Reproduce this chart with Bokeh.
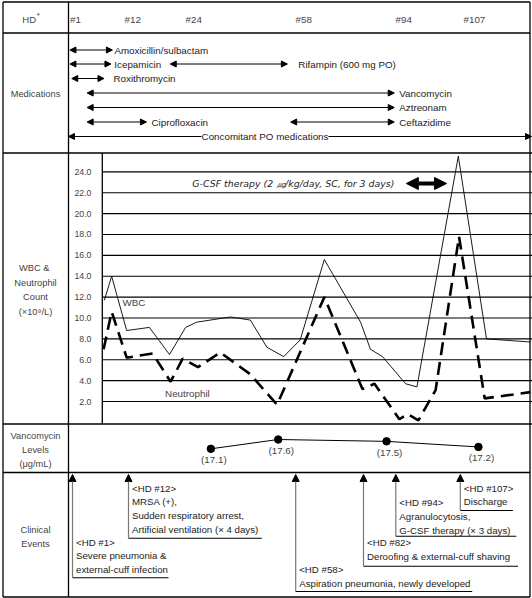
from bokeh.plotting import figure
from bokeh.models import Range1d, Arrow, NormalHead, Label
from bokeh.core.properties import value
from bokeh.embed import file_html
from bokeh.resources import INLINE

# ---------------- data ----------------
hd_labels = ["#1", "#12", "#24", "#58", "#94", "#107"]

# WBC (x10^9/L) on a schematic hospital-day timeline
wbc_day = [9.7, 11.7, 15.8, 22.0, 27.5, 31.9, 34.9, 44.2, 49.6, 54.1, 58.7,
           63.2, 69.8, 79.7, 82.4, 85.7, 92.0, 95.1, 106.4, 114.1, 126.1]
wbc = [11.7, 14.0, 8.8, 9.1, 6.5, 9.1, 9.6, 10.1, 9.8, 7.2, 6.3,
       7.9, 15.6, 9.6, 7.0, 6.3, 3.7, 3.4, 25.5, 8.0, 7.7]

neut_day = [9.5, 11.7, 15.8, 22.9, 27.8, 31.1, 35.3, 41.4, 49.6, 56.9,
            69.8, 80.2, 83.5, 90.3, 92.5, 95.5, 100.2, 106.6, 113.6, 126.1]
neut = [7.0, 10.6, 6.2, 6.6, 3.9, 6.1, 5.3, 6.7, 4.6, 1.7,
        12.0, 3.2, 3.7, 0.3, 0.8, 0.2, 3.1, 17.8, 2.3, 2.9]

count_ticks = [2, 4, 6, 8, 10, 12, 14, 16, 18, 20, 22, 24]
count_tick_labels = ["2.0", "4.0", "6.0", "8.0", "10.0", "12.0", "14.0",
                     "16.0", "18.0", "20.0", "22.0", "24.0"]

vanco_day = [38.8, 57.2, 86.8, 111.9]
vanco = [17.1, 17.6, 17.5, 17.2]
vanco_labels = ["(17.1)", "(17.6)", "(17.5)", "(17.2)"]

med_labels = ["Amoxicillin/sulbactam", "Icepamicin", "Rifampin (600 mg PO)",
              "Roxithromycin", "Vancomycin", "Aztreonam", "Ciprofloxacin",
              "Ceftazidime"]
med_start = [0.3, 0.3, 27.7, 0.8, 5.0, 5.0, 5.0, 60.6]
med_end = [11.9, 11.5, 59.7, 9.6, 88.9, 88.9, 21.2, 88.9]
med_row = [0, 1, 1, 2, 3, 4, 5, 5]
po_label = "Concomitant PO medications"
po_start, po_end = -0.1, 126.4

gcsf_label = "G-CSF therapy (2 \u338d/kg/day, SC, for 3 days)"
gcsf_start, gcsf_end = 92.2, 103.2

event_texts = [
    ["<HD #1>", "Severe pneumonia &", "external-cuff infection"],
    ["<HD #12>", "MRSA (+),", "Sudden respiratory arrest,",
     "Artificial ventilation (\u00d7 4 days)"],
    ["<HD #58>", "Aspiration pneumonia, newly developed"],
    ["<HD #82>", "Deroofing & external-cuff shaving"],
    ["<HD #94>", "Agranulocytosis,", "G-CSF therapy (\u00d7 3 days)"],
    ["<HD #107>", "Discharge"],
]

# ---------------- layout ----------------
W, H = 532, 598
FONT = value("Liberation Sans")
TXT = "#222222"
GREY_TXT = "#444444"

PX_PER_DAY = 388 / 106      # schematic day scale
DAY1_PX = 72
def px2day(px):
    return 1 + (px - DAY1_PX) / PX_PER_DAY

CNT0_PX, CNT_PX = 421.9, 10.44
VAN_REF, VAN_REF_PX, VAN_PX = 17.1, 448.3, 18.6

p = figure(width=W, height=H, x_range=Range1d(0, W), y_range=Range1d(H, 0),
           output_backend="svg", toolbar_location=None, min_border=0,
           x_axis_location=None, y_axis_location=None)
p.grid.visible = False
p.outline_line_color = None
p.background_fill_color = "white"
p.border_fill_color = "white"

p.extra_x_ranges = {"day": Range1d(px2day(0), px2day(W))}
p.extra_y_ranges = {
    "count": Range1d((CNT0_PX - H) / CNT_PX, CNT0_PX / CNT_PX),
    "vanco": Range1d(VAN_REF - (H - VAN_REF_PX) / VAN_PX, VAN_REF + VAN_REF_PX / VAN_PX),
}

# table frame
LW = 1.3
hx0 = [2.5, 2.5, 2.5, 2.5, 2.5, 2.5]
hx1 = [529.5, 529.5, 532, 532, 529.5, 529.5]
hy = [1.5, 32.5, 152.5, 423.5, 472, 596.5]
p.segment(x0=hx0, y0=hy, x1=hx1, y1=hy, line_color="black", line_width=LW)
vx = [2.5, 68, 101.8, 529.5]
vy0 = [1.5, 1.5, 152.5, 1.5]
vy1 = [596.5, 596.5, 423.5, 596.5]
p.segment(x0=vx, y0=vy0, x1=vx, y1=vy1, line_color="black", line_width=LW)

# left column labels
def ltext(x, y, t, size="9.3px", color=GREY_TXT, align="center", style="normal", font=FONT):
    p.text(x=[x], y=[y], text=[t], text_font=font, text_font_size=size,
           text_color=color, text_align=align, text_baseline="middle",
           text_font_style=style)

ltext(35.5, 18.5, "HD", size="9.5px", align="right")
ltext(36.2, 14.5, "*", size="8px", align="left")
ltext(35, 93, "Medications")
for yy, t in zip([267, 282, 296.5, 311], ["WBC  &", "Neutrophil", "Count", "(\u00d710\u2079/L)"]):
    ltext(35, yy, t)
for yy, t in zip([435, 449, 463], ["Vancomycin", "Levels", "(\u03bcg/mL)"]):
    ltext(35, yy, t)
for yy, t in zip([529, 543], ["Clinical", "Events"]):
    ltext(35, yy, t)

# HD header
hd_x = [69.6, 124, 185, 295, 395, 463]
p.text(x=hd_x, y=[18.5] * len(hd_x), text=hd_labels, text_font=FONT,
       text_font_size="9.8px", text_color=GREY_TXT, text_align="left",
       text_baseline="middle")

# medications
row_y = [49.5, 63.5, 78, 92.5, 107, 121.5, 136]
label_dx = [2, 3.4, 11, 9.5, 5, 5, 5, 5]
for s, e, r, lab, dx in zip(med_start, med_end, med_row, med_labels, label_dx):
    yy = row_y[r]
    p.add_layout(Arrow(x_start=s, x_end=e, y_start=yy, y_end=yy, x_range_name="day",
                       line_color="black", line_width=1,
                       start=NormalHead(size=6, fill_color="black", line_color="black"),
                       end=NormalHead(size=6, fill_color="black", line_color="black")))
    p.text(x=[e], y=[yy], text=[lab], x_range_name="day", x_offset=dx,
           text_font=FONT, text_font_size="9.8px", text_color=TXT,
           text_align="left", text_baseline="middle")
p.add_layout(Arrow(x_start=po_start, x_end=po_end, y_start=row_y[6], y_end=row_y[6],
                   x_range_name="day", line_color="black", line_width=1,
                   start=NormalHead(size=6, fill_color="black", line_color="black"),
                   end=NormalHead(size=6, fill_color="black", line_color="black")))
p.add_layout(Label(x=264.5, y=row_y[6], text=po_label, text_font="Liberation Sans",
                   text_font_size="9.8px", text_color=TXT, text_align="center",
                   text_baseline="middle", background_fill_color="white"))

# WBC panel gridlines & tick labels
p.segment(x0=[101.8] * len(count_ticks), y0=count_ticks, x1=[532] * len(count_ticks),
          y1=count_ticks, y_range_name="count", line_color="black", line_width=1.1)
p.text(x=[91] * len(count_ticks), y=count_ticks, text=count_tick_labels,
       y_range_name="count", text_font=FONT, text_font_size="8.8px",
       text_color=GREY_TXT, text_align="right", text_baseline="middle")

p.line(wbc_day, wbc, x_range_name="day", y_range_name="count",
       line_color="black", line_width=0.9)
p.line(neut_day, neut, x_range_name="day", y_range_name="count",
       line_color="black", line_width=2.6, line_dash="13 7")

ltext(122, 302, "WBC", size="9.8px", align="left")
ltext(164.6, 392.5, "Neutrophil", size="9.8px", align="left")

# G-CSF
p.text(x=[gcsf_start], y=[182.5], text=[gcsf_label], x_range_name="day",
       x_offset=-12, text_font=value("DejaVu Sans"), text_font_size="9.4px",
       text_color=TXT, text_align="right", text_baseline="middle",
       text_font_style="italic")
p.add_layout(Arrow(x_start=gcsf_start, x_end=gcsf_end, y_start=183, y_end=183,
                   x_range_name="day", line_color="black", line_width=4,
                   start=NormalHead(size=12, fill_color="black", line_color="black"),
                   end=NormalHead(size=12, fill_color="black", line_color="black")))

# vancomycin levels
p.line(vanco_day, vanco, x_range_name="day", y_range_name="vanco",
       line_color="black", line_width=1)
p.scatter(vanco_day, vanco, x_range_name="day", y_range_name="vanco",
          size=7.5, color="black")
p.text(x=vanco_day, y=vanco, text=vanco_labels, x_range_name="day",
       y_range_name="vanco", x_offset=3, y_offset=11, text_font=FONT,
       text_font_size="9.8px", text_color=GREY_TXT, text_align="center",
       text_baseline="middle")

# clinical events
ev_x = [72, 128, 295.2, 363, 395.3, 459.8]
ev_base = [577.3, 537.7, 591, 565.7, 535.7, 510]
ev_end = [168, 261.3, 471.7, 517.5, 515.8, 512.4]
ev_text_y = [541.7, 487.7, 569, 542.3, 502.3, 487.7]
for x, b, xe, ty, lines in zip(ev_x, ev_base, ev_end, ev_text_y, event_texts):
    p.add_layout(Arrow(x_start=x, x_end=x, y_start=b, y_end=474, line_color="#777777",
                       line_width=1.2,
                       end=NormalHead(size=7, fill_color="black", line_color="black")))
    p.segment(x0=[x], y0=[b], x1=[xe], y1=[b], line_color="black", line_width=1.1)
    p.text(x=[x + 3.5] * len(lines), y=[ty + 13.7 * i for i in range(len(lines))],
           text=lines, text_font=FONT, text_font_size="9.7px", text_color=TXT,
           text_align="left", text_baseline="middle")

open("out.html", "w").write(file_html(p, INLINE))
